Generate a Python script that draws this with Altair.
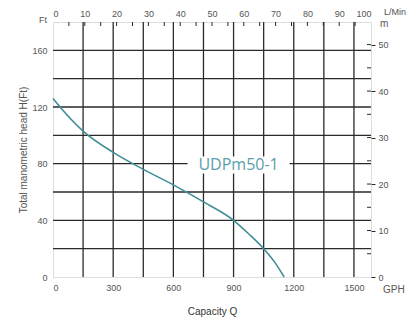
import altair as alt
import pandas as pd

# Pump curve (GPH vs head in ft)
capacity_gph = [0, 35, 150, 300, 450, 600, 750, 900, 975, 1050, 1105, 1152]
head_ft = [126, 120, 103, 88, 76, 65, 53, 40, 30.5, 20, 10.5, 0]

x_grid = [150, 300, 450, 600, 750, 900, 1050, 1200, 1350, 1500]
y_grid = [20, 40, 60, 80, 100, 120, 140, 160]
x_labels = [0, 300, 600, 900, 1200, 1500]
y_labels = [0, 40, 80, 120, 160]
lmin_ticks = [5, 10, 15, 20, 25, 30, 35, 40, 45, 50, 55, 60, 65, 70, 75, 80, 85, 90, 95]
lmin_labels = [0, 10, 20, 30, 40, 50, 60, 70, 80, 90, 100]
m_ticks = [5, 10, 15, 20, 25, 30, 35, 40, 45, 50]
m_labels = [0, 10, 20, 30, 40, 50]

GPH_MAX = 1585
FT_MAX = 180
M_MAX = FT_MAX * 0.3048

label_name = ["UDPm50-1"]
label_q = [925]
label_h = [79]

curve = pd.DataFrame({"q": capacity_gph, "h": head_ft})
lab = pd.DataFrame({"name": label_name, "q": label_q, "h": label_h})

grey = "#555555"
dark = "#2a2a2a"
teal = "#3f8e97"

xs = alt.Scale(domain=[0, GPH_MAX], nice=False, zero=True)
ys = alt.Scale(domain=[0, FT_MAX], nice=False, zero=True)

x_axis = alt.Axis(values=x_labels, grid=False, ticks=False, domain=False, labelColor=grey,
                  labelFontSize=9, labelPadding=6, title="Capacity Q", titleColor="#333",
                  titleFontSize=10, titleFontWeight="normal", titlePadding=14, format="d")
y_axis = alt.Axis(values=y_labels, grid=False, ticks=False, domain=False, labelColor=grey,
                  labelFontSize=9, labelPadding=6, title="Total manometric head  H(Ft)",
                  titleColor=grey, titleFontSize=10, titleFontWeight="normal", titlePadding=3)

vgrid = alt.Chart(pd.DataFrame({"g": x_grid})).mark_rule(color=dark, strokeWidth=1.3).encode(
    x=alt.X("g:Q", scale=xs, axis=x_axis)
)
hgrid = alt.Chart(pd.DataFrame({"g": y_grid})).mark_rule(color=dark, strokeWidth=1.3).encode(
    y=alt.Y("g:Q", scale=ys, axis=y_axis)
)

line = alt.Chart(curve).mark_line(color=teal, strokeWidth=1.6, interpolate="monotone").encode(
    x=alt.X("q:Q", scale=xs, axis=x_axis),
    y=alt.Y("h:Q", scale=ys, axis=y_axis),
)

box = alt.Chart(lab).mark_rect(color="white", width=102, height=17).encode(
    x=alt.X("q:Q", scale=xs, axis=x_axis), y=alt.Y("h:Q", scale=ys, axis=y_axis)
)
txt = alt.Chart(lab).mark_text(color="#5a9ead", fontSize=16, font="Open Sans").encode(
    x=alt.X("q:Q", scale=xs, axis=x_axis), y=alt.Y("h:Q", scale=ys, axis=y_axis), text="name:N"
)

main = alt.layer(vgrid, hgrid, line, box, txt)

top = alt.Chart(pd.DataFrame({"v": lmin_ticks})).mark_rule(color=dark, strokeWidth=1).encode(
    x=alt.X("v:Q", scale=alt.Scale(domain=[0, 100], nice=False),
            axis=alt.Axis(orient="top", values=lmin_labels, ticks=False, domain=False, grid=False,
                          labelColor=grey, labelFontSize=9, labelPadding=4, title=None)),
    y=alt.value(0), y2=alt.value(4),
)

right = alt.Chart(pd.DataFrame({"v": m_ticks})).mark_rule(color=dark, strokeWidth=1).encode(
    y=alt.Y("v:Q", scale=alt.Scale(domain=[0, M_MAX], nice=False),
            axis=alt.Axis(orient="right", values=m_labels, ticks=True, tickSize=4,
                          tickColor=dark, domain=False, grid=False, labelColor=grey,
                          labelFontSize=9, labelPadding=3, title=None)),
    x=alt.value(314), x2=alt.value(318),
)

unit_text = ["Ft", "m", "L/Min", "GPH"]
unit_px = [-6, 327, 331, 330]
unit_py = [-2, 2, -10, 268]
unit_align = ["right", "left", "left", "left"]
unit_size = [9, 10, 9, 10]
unit_layers = []
for t, px, py, a, s in zip(unit_text, unit_px, unit_py, unit_align, unit_size):
    unit_layers.append(
        alt.Chart(pd.DataFrame({"t": [t]})).mark_text(
            color=grey, fontSize=s, align=a, baseline="middle").encode(
            x=alt.value(px), y=alt.value(py), text="t:N")
    )

chart = alt.layer(main, top, right, *unit_layers).resolve_scale(
    x="independent", y="independent"
).properties(
    width=318, height=255,
    padding={"left": 45, "top": 14, "right": 37, "bottom": 42},
    autosize=alt.AutoSizeParams(type="none"),
).configure_view(stroke=dark, strokeWidth=1.5).configure(font="Liberation Sans", background="white")

chart.save("out.html", embed_options={"renderer": "svg", "actions": False})
